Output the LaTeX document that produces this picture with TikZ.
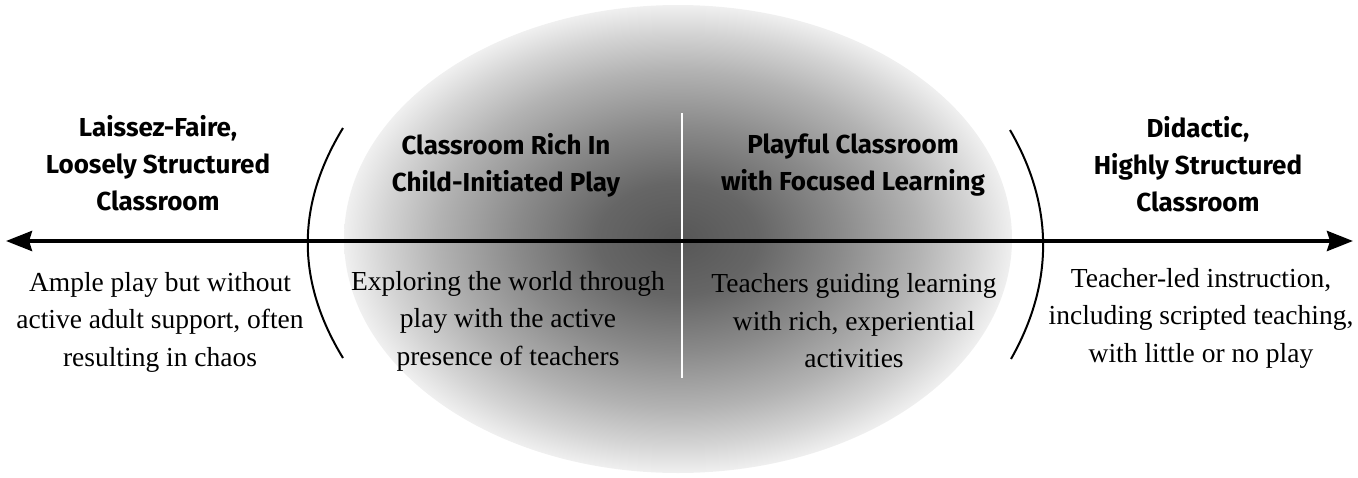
\documentclass[tikz,border=0pt]{standalone}
\usepackage{fontspec}
\setmainfont{Liberation Serif}
\newfontfamily\headfont{Fira Sans}
\usetikzlibrary{arrows.meta}
\pgfdeclareradialshading{blob}{\pgfpoint{0bp}{0bp}}{%
  color(0bp)=(black!66); color(6bp)=(black!60); color(12bp)=(black!46);
  color(18bp)=(black!30); color(22bp)=(black!17); color(25bp)=(black!6);
  color(50bp)=(white)}
\begin{document}
\begin{tikzpicture}[x=1pt,y=-1pt,
  head/.style={font=\headfont\bfseries\fontsize{26}{37}\selectfont, align=center, inner sep=0pt},
  body/.style={font=\fontsize{27.5}{37.5}\selectfont, align=center, inner sep=0pt},
  axis/.style={line width=4pt, {Stealth[length=26pt,width=20pt,inset=3pt]}-{Stealth[length=26pt,width=20pt,inset=3pt]}},
  bracket/.style={line width=2pt},
  divider/.style={white, line width=2pt}]
\useasboundingbox (0,0) rectangle (1358,477);
\shade[shading=blob] (678,239) ellipse [x radius=334pt, y radius=234pt];
\coordinate (vt) at (682,113);
\coordinate (vb) at (682,378);
\draw[divider] (vt) -- (vb);
\coordinate (la) at (343,128);
\coordinate (lb) at (343,358);
\draw[bracket] (la) .. controls (296,205) and (296,281) .. (lb);
\coordinate (ra) at (1010,130);
\coordinate (rb) at (1011,359);
\draw[bracket] (ra) .. controls (1054,206) and (1054,283) .. (rb);
\coordinate (L) at (6,241);
\coordinate (R) at (1353,241);
\draw[axis] (L) -- (R);
\node[head] (h1) at (158,163) {Laissez-Faire,\\Loosely Structured\\Classroom};
\node[head] (h2) at (506,165) {Classroom Rich In\\Child-Initiated Play};
\node[head] (h3) at (853,165) {Playful Classroom\\with Focused Learning};
\node[head] (h4) at (1198,164) {Didactic,\\Highly Structured\\Classroom};
\node[body] (b1) at (160,322) {Ample play but without\\active adult support, often\\resulting in chaos};
\node[body] (b2) at (508,321) {Exploring the world through\\play with the active\\presence of teachers};
\node[body] (b3) at (854,321) {Teachers guiding learning\\with rich, experiential\\activities};
\node[body] (b4) at (1201,318) {Teacher-led instruction,\\including scripted teaching,\\with little or no play};
\end{tikzpicture}
\end{document}
